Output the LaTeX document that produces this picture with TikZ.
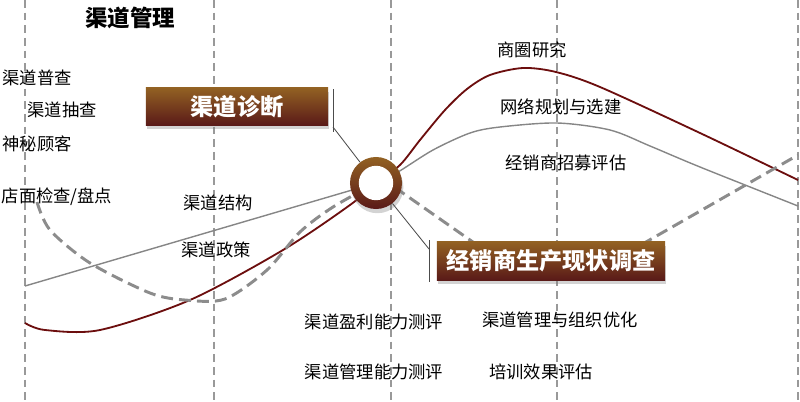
\documentclass[tikz,border=0pt]{standalone}
\usepackage{fontspec}
\setmainfont{Noto Sans CJK SC}
\usepackage{xcolor}
\usepackage{tikz}
\usetikzlibrary{shadows}
\definecolor{DiagTop}{RGB}{146,97,35}
\definecolor{DiagBot}{RGB}{90,26,24}
\definecolor{CurveRed}{RGB}{108,14,14}

\begin{document}
\begin{tikzpicture}[x=0.025cm, y=-0.025cm,
    lbl/.style={font=\fontsize{12.3}{14}\selectfont, inner sep=0pt},
    stagebox/.style={rectangle, inner sep=0pt, top color=DiagTop, bottom color=DiagBot, text=white,
        font=\bfseries\fontsize{16.5}{18}\selectfont,
        drop shadow={shadow xshift=1pt, shadow yshift=-3pt, opacity=.35}},
    guide/.style={gray!80, line width=1.4pt, dash pattern=on 5.5pt off 3.5pt},
    leader/.style={black!70, line width=.6pt}]
    \useasboundingbox (0,0) rectangle (800,401);

    % 阶段分隔虚线
    \draw[guide] (25,0) -- (25,401);
    \draw[guide] (214,0) -- (214,401);
    \draw[guide] (391,0) -- (391,401);
    \draw[guide] (557,0) -- (557,401);
    \draw[guide] (798,0) -- (798,401);

    % 三条走势曲线
    \draw[CurveRed, line width=1.3pt] plot[smooth] coordinates {(25,323) (45,330) (100,330) (190,300) (283,250) (350,205) (376,183)};
    \draw[CurveRed, line width=1.3pt] plot[smooth] coordinates {(376,183) (400,165) (420,140) (445,110) (467,89) (490,75) (523,68) (556,72) (600,87) (700,133) (798,180)};
    \draw[gray!95, line width=1pt] (25,286) -- (376,183);
    \draw[gray!95, line width=1pt] plot[smooth] coordinates {(376,183) (398,172) (433,150) (470,133) (500,127) (557,123) (610,130) (650,146) (700,167) (798,206)};
    \draw[gray!90, line width=2.1pt, dash pattern=on 8.5pt off 4.3pt] plot[smooth] coordinates {(37,202) (50,230) (90,263) (150,293) (185,300) (225,299) (267,270) (300,232) (333,207) (376,183)};
    \draw[gray!90, line width=2.1pt, dash pattern=on 8.5pt off 4.3pt] (380,177) -- (490,254) -- (625,254) -- (798,155);

    % 中心圆环
    \node[circle, minimum size=1.3cm, inner sep=0pt, top color=DiagTop, bottom color=DiagBot,
        drop shadow={shadow xshift=1pt, shadow yshift=-3pt, opacity=.35}] (hub) at (376,183) {};
    \node[circle, fill=white, minimum size=0.86cm, inner sep=0pt] (hubcore) at (hub) {};

    % 引线
    \coordinate (bar1top) at (333,89);
    \coordinate (bar1bot) at (333,132);
    \coordinate (tie1) at (333,127);
    \draw[leader] (bar1top) -- (bar1bot);
    \draw[leader] (tie1) -- (hub);
    \coordinate (bar2top) at (429,240);
    \coordinate (bar2bot) at (429,282);
    \coordinate (tie2) at (429,249);
    \draw[leader] (bar2top) -- (bar2bot);
    \draw[leader] (tie2) -- (hub);

    % 两个阶段标题框
    \node[stagebox, minimum width=4.55cm, minimum height=0.925cm] (diag) at (237,106.5) {渠道诊断};
    \node[stagebox, minimum width=5.7cm, minimum height=0.95cm] (survey) at (551,261) {经销商生产现状调查};

    % 文字
    \node[font=\bfseries\fontsize{16}{18}\selectfont, inner sep=0pt] (title) at (130,18) {渠道管理};
    \node[lbl] (census) at (37,78) {渠道普查};
    \node[lbl] (spot) at (62,110) {渠道抽查};
    \node[lbl] (mystery) at (37,144) {神秘顾客};
    \node[lbl] (store) at (57,197) {店面检查/盘点};
    \node[lbl] (struct) at (218,203) {渠道结构};
    \node[lbl] (policy) at (216,250) {渠道政策};
    \node[lbl] (profit) at (374,322) {渠道盈利能力测评};
    \node[lbl] (mgmt) at (374,372) {渠道管理能力测评};
    \node[lbl] (orgopt) at (560,320) {渠道管理与组织优化};
    \node[lbl] (train) at (541,372) {培训效果评估};
    \node[lbl] (trade) at (532,50) {商圈研究};
    \node[lbl] (network) at (561,107) {网络规划与选建};
    \node[lbl] (recruit) at (566,163) {经销商招募评估};

\end{tikzpicture}
\end{document}
